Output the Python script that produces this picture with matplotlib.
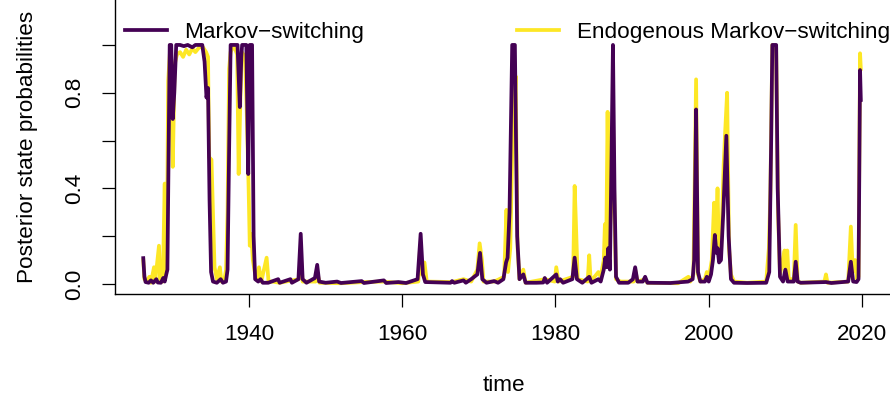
import matplotlib
matplotlib.use("Agg")
import matplotlib.pyplot as plt

# ---------------- data ----------------
ms_time = [1926.2, 1926.35, 1926.5, 1926.9, 1927.2, 1927.5, 1927.9, 1928.1, 1928.5, 1928.8,
           1929.0, 1929.2, 1929.35, 1929.5, 1929.65, 1929.85, 1930.05, 1930.25, 1930.5, 1931.0,
           1931.5, 1932.0, 1932.6, 1933.0, 1933.9, 1934.2, 1934.45, 1934.65, 1934.85, 1935.05,
           1935.3, 1935.8, 1936.3, 1936.6, 1937.0, 1937.2, 1937.4, 1937.6, 1938.5, 1938.8,
           1939.0, 1939.1, 1939.65, 1939.9, 1940.1, 1940.4, 1940.6, 1940.8, 1941.2, 1941.5,
           1941.8, 1942.5, 1943.8, 1944.0, 1945.4, 1945.6, 1946.45, 1946.75, 1947.0, 1947.5,
           1948.6, 1948.9, 1949.15, 1950.0, 1951.5, 1952.0, 1954.7, 1955.0, 1957.6, 1957.9,
           1959.5, 1960.5, 1962.0, 1962.4, 1962.7, 1963.0, 1966.3, 1966.5, 1966.8, 1968.0,
           1968.3, 1969.0, 1969.8, 1970.15, 1970.45, 1971.0, 1972.0, 1972.5, 1973.2, 1973.55,
           1973.75, 1974.0, 1974.35, 1974.7, 1975.0, 1975.3, 1975.8, 1976.1, 1977.5, 1978.4,
           1978.6, 1978.9, 1980.1, 1980.3, 1980.6, 1981.0, 1982.2, 1982.5, 1982.8, 1983.5,
           1984.4, 1984.7, 1985.6, 1985.9, 1986.3, 1986.5, 1986.7, 1986.9, 1987.1, 1987.3,
           1987.5, 1987.7, 1987.9, 1988.3, 1989.5, 1990.1, 1990.4, 1990.7, 1991.4, 1991.7,
           1992.0, 1995.0, 1997.3, 1997.9, 1998.1, 1998.35, 1998.6, 1998.9, 1999.5, 1999.75,
           2000.0, 2000.3, 2000.55, 2000.8, 2001.0, 2001.15, 2001.35, 2001.6, 2001.9, 2002.3,
           2002.6, 2002.9, 2003.3, 2005.0, 2007.5, 2007.9, 2008.15, 2008.3, 2008.8, 2009.0,
           2009.3, 2009.7, 2010.0, 2010.3, 2011.1, 2011.35, 2011.6, 2012.0, 2015.3, 2016.0,
           2018.2, 2018.55, 2018.85, 2019.3, 2019.55, 2019.75, 2019.85]
ms_prob = [0.108, 0.03, 0.008, 0.005, 0.015, 0.005, 0.02, 0.006, 0.005, 0.025,
           0.01, 0.04, 0.06, 0.55, 1.0, 1.0, 0.69, 0.8, 1.0, 1.0,
           0.995, 1.0, 0.99, 1.0, 1.0, 0.93, 0.78, 0.82, 0.35, 0.05,
           0.01, 0.005, 0.02, 0.005, 0.01, 0.06, 0.55, 1.0, 1.0, 0.74,
           0.95, 1.0, 1.0, 0.46, 1.0, 1.0, 0.2, 0.02, 0.01, 0.02,
           0.005, 0.005, 0.02, 0.005, 0.02, 0.005, 0.02, 0.21, 0.02, 0.005,
           0.025, 0.08, 0.01, 0.005, 0.01, 0.004, 0.012, 0.004, 0.015, 0.004,
           0.008, 0.004, 0.02, 0.21, 0.04, 0.008, 0.005, 0.012, 0.005, 0.015,
           0.005, 0.02, 0.04, 0.13, 0.02, 0.005, 0.012, 0.005, 0.02, 0.09,
           0.11, 0.3, 1.0, 1.0, 0.2, 0.02, 0.04, 0.005, 0.005, 0.006,
           0.025, 0.005, 0.04, 0.01, 0.02, 0.005, 0.02, 0.11, 0.02, 0.005,
           0.03, 0.005, 0.02, 0.01, 0.06, 0.11, 0.07, 0.15, 0.06, 0.5,
           1.0, 0.4, 0.03, 0.005, 0.005, 0.02, 0.07, 0.01, 0.01, 0.03,
           0.005, 0.004, 0.01, 0.02, 0.1, 0.73, 0.05, 0.01, 0.01, 0.03,
           0.01, 0.04, 0.1, 0.205, 0.13, 0.15, 0.09, 0.1, 0.3, 0.62,
           0.2, 0.02, 0.005, 0.004, 0.005, 0.05, 0.6, 1.0, 1.0, 0.4,
           0.03, 0.01, 0.06, 0.01, 0.01, 0.093, 0.01, 0.005, 0.008, 0.004,
           0.01, 0.093, 0.01, 0.008, 0.02, 0.895, 0.77]

ems_time = [1926.2, 1926.35, 1926.6, 1927.0, 1927.2, 1927.6, 1927.75, 1928.25, 1928.4, 1928.6,
            1928.75, 1929.0, 1929.1, 1929.3, 1929.45, 1929.7, 1929.9, 1930.05, 1930.3, 1930.6,
            1931.0, 1931.4, 1931.8, 1932.2, 1932.6, 1933.0, 1933.5, 1934.0, 1934.4, 1934.65,
            1934.8, 1935.1, 1935.3, 1935.5, 1935.8, 1936.2, 1936.4, 1936.8, 1937.0, 1937.2,
            1937.4, 1937.6, 1938.0, 1938.45, 1938.65, 1938.85, 1939.05, 1939.5, 1939.7, 1939.95,
            1940.1, 1940.3, 1940.5, 1940.75, 1941.0, 1941.3, 1941.6, 1942.3, 1942.55, 1943.0,
            1944.0, 1946.5, 1946.75, 1947.0, 1948.7, 1948.9, 1949.2, 1952.0, 1955.0, 1957.6,
            1960.0, 1962.1, 1962.3, 1962.6, 1962.9, 1963.2, 1966.5, 1968.0, 1969.0, 1969.8,
            1970.1, 1970.4, 1970.6, 1972.0, 1973.3, 1973.6, 1973.8, 1974.1, 1974.4, 1974.6,
            1974.8, 1975.05, 1975.3, 1975.8, 1976.1, 1978.6, 1979.9, 1980.1, 1980.4, 1982.3,
            1982.5, 1982.65, 1982.9, 1984.2, 1984.4, 1984.6, 1985.6, 1985.9, 1986.3, 1986.45,
            1986.6, 1986.8, 1987.0, 1987.3, 1987.5, 1987.7, 1987.9, 1988.5, 1990.2, 1990.4,
            1990.7, 1991.7, 1992.0, 1996.0, 1997.35, 1997.6, 1998.0, 1998.35, 1998.6, 1998.9,
            1999.5, 1999.75, 2000.0, 2000.4, 2000.7, 2000.9, 2001.15, 2001.35, 2001.6, 2001.95,
            2002.15, 2002.4, 2002.65, 2002.9, 2003.3, 2005.0, 2007.5, 2007.85, 2008.05, 2008.3,
            2008.8, 2009.05, 2009.3, 2009.7, 2009.9, 2010.05, 2010.25, 2010.45, 2011.1, 2011.35,
            2011.6, 2012.0, 2015.1, 2015.3, 2015.5, 2018.2, 2018.55, 2018.8, 2019.1, 2019.35,
            2019.55, 2019.75, 2019.85]
ems_prob = [0.1, 0.02, 0.01, 0.03, 0.005, 0.07, 0.01, 0.16, 0.02, 0.09,
            0.01, 0.42, 0.05, 0.2, 0.85, 0.98, 0.75, 0.49, 0.92, 0.96,
            0.97, 0.95, 0.98, 0.96, 0.985, 0.97, 0.99, 0.99, 0.97, 0.95,
            0.53, 0.52, 0.3, 0.07, 0.02, 0.07, 0.01, 0.02, 0.06, 0.3,
            0.9, 0.97, 1.0, 0.96, 0.46, 0.74, 0.97, 0.95, 0.72, 0.4,
            0.16, 0.21, 0.1, 0.05, 0.02, 0.07, 0.01, 0.11, 0.01, 0.01,
            0.005, 0.02, 0.12, 0.01, 0.01, 0.05, 0.005, 0.003, 0.008, 0.01,
            0.003, 0.01, 0.14, 0.04, 0.09, 0.01, 0.008, 0.02, 0.01, 0.06,
            0.17, 0.1, 0.01, 0.01, 0.03, 0.31, 0.05, 0.15, 0.63, 0.7,
            0.87, 0.15, 0.02, 0.06, 0.005, 0.02, 0.01, 0.07, 0.01, 0.03,
            0.41, 0.27, 0.02, 0.01, 0.12, 0.01, 0.05, 0.03, 0.1, 0.25,
            0.08, 0.72, 0.12, 0.4, 0.7, 0.3, 0.02, 0.01, 0.01, 0.06,
            0.01, 0.02, 0.005, 0.003, 0.03, 0.01, 0.04, 0.856, 0.04, 0.01,
            0.02, 0.05, 0.02, 0.1, 0.34, 0.15, 0.4, 0.1, 0.12, 0.5,
            0.64, 0.8, 0.15, 0.04, 0.01, 0.005, 0.01, 0.15, 0.39, 1.0,
            0.99, 0.3, 0.04, 0.1, 0.14, 0.03, 0.14, 0.02, 0.02, 0.247,
            0.01, 0.005, 0.01, 0.04, 0.005, 0.01, 0.24, 0.05, 0.1, 0.02,
            0.03, 0.965, 0.9]

x_ticks = [1940, 1960, 1980, 2000, 2020]
y_ticks = [0.0, 0.2, 0.4, 0.6, 0.8, 1.0]
y_tick_labels = ["0.0", "", "0.4", "", "0.8", ""]
series_labels = ["Markov\u2212switching", "Endogenous Markov\u2212switching"]

PURPLE = "#440154"
YELLOW = "#FDE725"
FS = 16.2

plt.rcParams["font.family"] = ["Liberation Sans", "DejaVu Sans"]

W, H = 890, 401
fig = plt.figure(figsize=(W / 100, H / 100), dpi=100)
ax = fig.add_axes([115 / W, 107 / H, 778 / W, 294 / H])

l_ems, = ax.plot(ems_time, ems_prob, color=YELLOW, lw=2.7, solid_joinstyle="round")
l_ms, = ax.plot(ms_time, ms_prob, color=PURPLE, lw=2.7, solid_joinstyle="round")

ax.set_xlim(1922.51, 2024.05)
ax.set_ylim(-0.042, 1.188)

for s in ("top", "right"):
    ax.spines[s].set_visible(False)
for s in ("left", "bottom"):
    ax.spines[s].set_linewidth(1.0)

ax.set_xticks(x_ticks)
ax.set_xticklabels([str(v) for v in x_ticks])
ax.set_yticks(y_ticks)
ax.set_yticklabels(y_tick_labels)
ax.tick_params(axis="both", direction="out", length=9.4, width=0.9,
               pad=12, labelsize=FS, colors="black")
for lbl in ax.get_yticklabels():
    lbl.set_rotation(90)
    lbl.set_va("center")

ax.set_xlabel("time", fontsize=FS, labelpad=22)
ax.set_ylabel("Posterior state probabilities", fontsize=FS, labelpad=19)

leg1 = ax.legend([l_ms], [series_labels[0]], loc="upper left",
                 bbox_to_anchor=(10 / 778, 1 - 22 / 294), frameon=False,
                 handlelength=1.85, handletextpad=0.8, borderpad=0,
                 borderaxespad=0, fontsize=FS)
ax.add_artist(leg1)
leg2 = ax.legend([l_ems], [series_labels[1]], loc="upper left",
                 bbox_to_anchor=(402 / 778, 1 - 22 / 294), frameon=False,
                 handlelength=1.85, handletextpad=0.8, borderpad=0,
                 borderaxespad=0, fontsize=FS)

fig.savefig("out.png", dpi=100)
